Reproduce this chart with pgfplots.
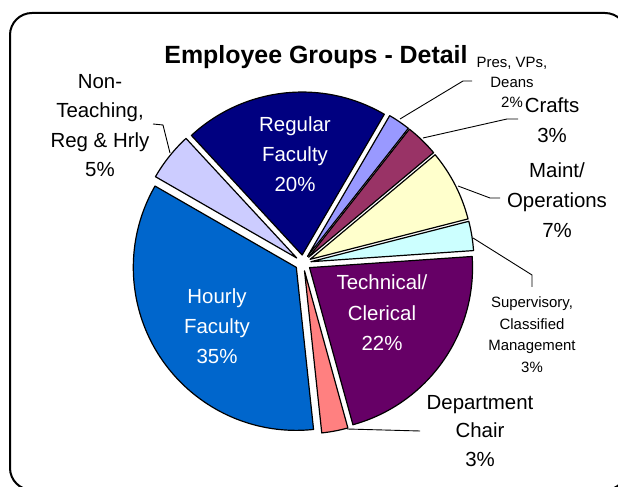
\documentclass[border=0pt]{standalone}
\usepackage{pgfplots}
\usepackage{pgfplotstable}
\pgfplotsset{compat=1.18}
\usepackage{fontspec}
\setmainfont{Liberation Sans}

\definecolor{cReg}{HTML}{000080}
\definecolor{cPres}{HTML}{9999FF}
\definecolor{cCrafts}{HTML}{993366}
\definecolor{cMaint}{HTML}{FFFFCC}
\definecolor{cSup}{HTML}{CCFFFF}
\definecolor{cTech}{HTML}{660066}
\definecolor{cDept}{HTML}{FF8080}
\definecolor{cHour}{HTML}{0066CC}
\definecolor{cNon}{HTML}{CCCCFF}

% share of each group (percent), clockwise from the left edge of Regular Faculty
\pgfplotstableread{
name        value  color
Regular     20.3   cReg
Pres        2.2    cPres
Crafts      3.3    cCrafts
Maint       7.1    cMaint
Superv      2.9    cSup
Technical   21.8   cTech
DeptChair   2.6    cDept
Hourly      35.0   cHour
NonTeach    4.8    cNon
}\piedata

\newcommand\cumangle{132.8}
\newcommand\pieR{163}
\newcommand\pieCX{303}
\newcommand\pieCY{224}
\newcommand\pieEx{8}

\begin{document}
\foreach \i in {0,...,8}{%
  \pgfplotstablegetelem{\i}{value}\of\piedata
  \pgfmathsetmacro\va{\pgfplotsretval}%
  \pgfplotstablegetelem{\i}{color}\of\piedata
  \expandafter\xdef\csname sliceC\i\endcsname{\pgfplotsretval}%
  \pgfmathsetmacro\sa{\cumangle}%
  \pgfmathsetmacro\sb{\cumangle-3.6*\va}%
  \pgfmathsetmacro\sm{(\sa+\sb)/2}%
  \pgfmathsetmacro\scx{\pieCX+\pieEx*cos(\sm)}%
  \pgfmathsetmacro\scy{\pieCY+\pieEx*sin(\sm)}%
  \expandafter\xdef\csname sliceA\i\endcsname{\sa}%
  \expandafter\xdef\csname sliceB\i\endcsname{\sb}%
  \expandafter\xdef\csname sliceX\i\endcsname{\scx}%
  \expandafter\xdef\csname sliceY\i\endcsname{\scy}%
  \xdef\cumangle{\sb}%
}%
\begin{tikzpicture}[x=1bp,y=1bp]
\useasboundingbox (0,0) rectangle (618,487);
\begin{scope}
\clip (0,0) rectangle (618,487);
\draw[line width=2bp, rounded corners=22bp] (10,-3) rectangle (627,474);
\end{scope}
\begin{axis}[at={(0,0)}, anchor=south west, width=618bp, height=487bp,
  scale only axis, xmin=0, xmax=618, ymin=0, ymax=487, hide axis, clip=false]
\pgfplotsinvokeforeach{0,...,8}{%
  \edef\tmp{\noexpand\fill[\csname sliceC#1\endcsname, draw=black, line width=1.2bp, line join=round]
    (axis cs:\csname sliceX#1\endcsname,\csname sliceY#1\endcsname)
    -- ++(\csname sliceA#1\endcsname:\pieR bp)
    arc[start angle=\csname sliceA#1\endcsname, end angle=\csname sliceB#1\endcsname, radius=\pieR bp]
    -- cycle;}%
  \tmp
}
% leader lines
\addplot[black, line width=0.9bp, no marks] coordinates {(153,363) (163,362) (170,334)};
\addplot[black, line width=0.9bp, no marks] coordinates {(400,368) (463,406) (472,406)};
\addplot[black, line width=0.9bp, no marks] coordinates {(423,349) (507,368) (518,368)};
\addplot[black, line width=0.9bp, no marks] coordinates {(458,301) (490,289) (500,289)};
\addplot[black, line width=0.9bp, no marks] coordinates {(473,249) (532,212) (532,200)};
\addplot[black, line width=0.9bp, no marks] coordinates {(347,58) (420,56)};
% title
\node[font=\fontsize{25}{30}\selectfont\bfseries] at (axis cs:316,430) {Employee Groups - Detail};
% labels
\node[text=white, align=center, font=\fontsize{20.5}{30}\selectfont] at (axis cs:295,333) {Regular\\Faculty\\20\%};
\node[text=white, align=center, font=\fontsize{20.5}{30}\selectfont] at (axis cs:217,161) {Hourly\\Faculty\\35\%};
\node[text=white, align=center, font=\fontsize{20.5}{30.5}\selectfont] at (axis cs:382,174) {Technical/\\Clerical\\22\%};
\node[align=center, font=\fontsize{20.5}{29.7}\selectfont] at (axis cs:100,361.5) {Non-\\Teaching,\\Reg \& Hrly\\5\%};
\node[align=center, font=\fontsize{15}{20}\selectfont] at (axis cs:512,405) {Pres, VPs,\\Deans\\2\%};
\node[align=center, font=\fontsize{20.5}{30}\selectfont] at (axis cs:552,367) {Crafts\\3\%};
\node[align=center, font=\fontsize{20.5}{30}\selectfont] at (axis cs:557,287) {Maint/\\Operations\\7\%};
\node[align=center, font=\fontsize{15}{21.7}\selectfont] at (axis cs:532,152.5) {Supervisory,\\Classified\\Management\\3\%};
\node[align=center, font=\fontsize{20.5}{29}\selectfont] at (axis cs:480,56) {Department\\Chair\\3\%};
\end{axis}
\end{tikzpicture}
\end{document}
